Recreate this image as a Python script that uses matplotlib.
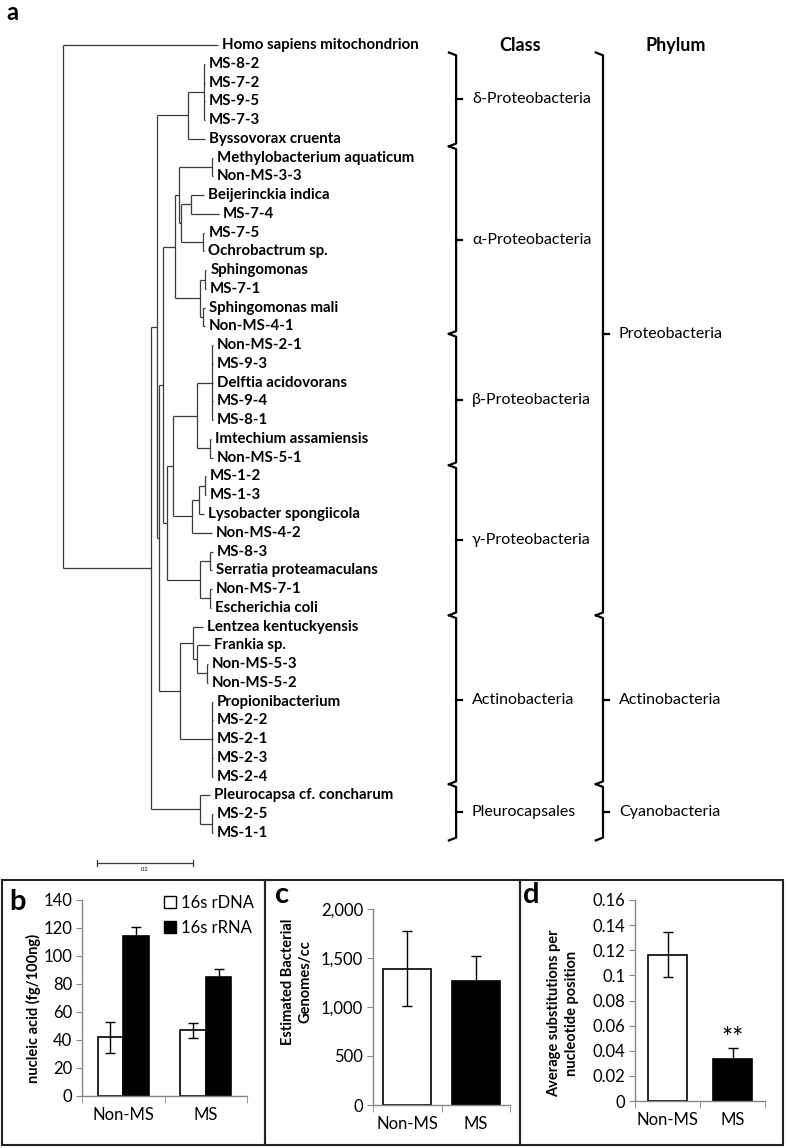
import matplotlib
matplotlib.use('Agg')
import matplotlib.pyplot as plt
from matplotlib.patches import Rectangle, Patch
from matplotlib.ticker import FuncFormatter

plt.rcParams['font.family'] = ['Lato', 'DejaVu Sans']

# ---------- panel a: tree data ----------
leaf_names = ['Homo sapiens mitochondrion', 'MS-8-2', 'MS-7-2', 'MS-9-5', 'MS-7-3',
              'Byssovorax cruenta', 'Methylobacterium aquaticum', 'Non-MS-3-3',
              'Beijerinckia indica', 'MS-7-4', 'MS-7-5', 'Ochrobactrum sp.',
              'Sphingomonas', 'MS-7-1', 'Sphingomonas mali', 'Non-MS-4-1',
              'Non-MS-2-1', 'MS-9-3', 'Delftia acidovorans', 'MS-9-4', 'MS-8-1',
              'Imtechium assamiensis', 'Non-MS-5-1', 'MS-1-2', 'MS-1-3',
              'Lysobacter spongiicola', 'Non-MS-4-2', 'MS-8-3', 'Serratia proteamaculans',
              'Non-MS-7-1', 'Escherichia coli', 'Lentzea kentuckyensis', 'Frankia sp.',
              'Non-MS-5-3', 'Non-MS-5-2', 'Propionibacterium', 'MS-2-2', 'MS-2-1',
              'MS-2-3', 'MS-2-4', 'Pleurocapsa cf. concharum', 'MS-2-5', 'MS-1-1']
# distance of each tip from the root (substitutions per site)
leaf_depth = [0.323, 0.296, 0.296, 0.296, 0.296, 0.296, 0.3125, 0.3125, 0.294, 0.325,
              0.294, 0.294, 0.298, 0.298, 0.296, 0.296, 0.3125, 0.3125, 0.3125, 0.3125,
              0.3125, 0.308, 0.3125, 0.298, 0.298, 0.294, 0.310, 0.3125, 0.310, 0.310,
              0.308, 0.292, 0.306, 0.302, 0.302, 0.3125, 0.3125, 0.3125, 0.3125, 0.3125,
              0.306, 0.3125, 0.3125]

# internal nodes: children are leaf indices (int) or node names (str)
node_names = ['delta_poly', 'delta', 'methylo', 'beij', 'ms75', 'alpha2', 'alpha1',
              'sph1', 'sph2', 'sphingo', 'alpha', 'beta_poly', 'imt', 'beta', 'lys2',
              'lys1', 'lys', 'bl', 'serr1', 'ecoli', 'serr', 'bg', 'proteo', 'nms5',
              'frank', 'lentz', 'propi', 'actino', 'pl1', 'pleuro', 'n2b', 'n2', 'n1', 'root']
node_depth = [0.294, 0.260, 0.310, 0.267, 0.292, 0.246, 0.242,
              0.296, 0.292, 0.285, 0.233, 0.310, 0.306, 0.279, 0.296,
              0.283, 0.269, 0.229, 0.306, 0.306, 0.285, 0.217, 0.208, 0.300,
              0.279, 0.271, 0.310, 0.244, 0.310, 0.285, 0.199, 0.196, 0.183, 0.0]
node_children = [[1, 2, 3, 4], ['delta_poly', 5], [6, 7], [8, 9], [10, 11], ['beij', 'ms75'],
                 ['methylo', 'alpha2'], [12, 13], [14, 15], ['sph1', 'sph2'],
                 ['alpha1', 'sphingo'], [16, 17, 18, 19, 20], [21, 22], ['beta_poly', 'imt'],
                 [23, 24], ['lys2', 25], ['lys1', 26], ['beta', 'lys'], [27, 28], [29, 30],
                 ['serr1', 'ecoli'], ['bl', 'serr'], ['alpha', 'bg'], [33, 34], [32, 'nms5'],
                 [31, 'frank'], [35, 36, 37, 38, 39], ['lentz', 'propi'], [41, 42], [40, 'pl1'],
                 ['proteo', 'actino'], ['delta', 'n2b'], ['n2', 'pleuro'], [0, 'n1']]

class_names = ['δ-Proteobacteria', 'α-Proteobacteria', 'β-Proteobacteria',
               'γ-Proteobacteria', 'Actinobacteria', 'Pleurocapsales']
class_first = [1, 6, 16, 23, 31, 40]
class_last = [5, 15, 22, 30, 39, 42]
phylum_names = ['Proteobacteria', 'Actinobacteria', 'Cyanobacteria']
phylum_first = [1, 31, 40]
phylum_last = [30, 39, 42]

# ---------- panels b, c, d data ----------
groups = ['Non-MS', 'MS']
rdna = [42, 47]
rdna_err = [11, 5.5]
rrna = [114, 85]
rrna_err = [7, 6]
genomes = [1390, 1270]
genomes_err = [383, 250]
subst = [0.1165, 0.0333]
subst_err = [0.018, 0.009]

W, H = 787, 1148
fig = plt.figure(figsize=(W / 100, H / 100), dpi=100)

# tree axes over the upper part, data units: x = depth, y = leaf index
ax = fig.add_axes([0, 1 - 880 / H, 1, 880 / H])
ax.set_xlim(-63 / 480, (W - 63) / 480)
ax.set_ylim((880 - 45) / 18.76, -45 / 18.76)
ax.axis('off')

tree_col = '#3a3a3a'


def child_y(c):
    if isinstance(c, int):
        return c
    kids = node_children[node_names.index(c)]
    ys = [child_y(k) for k in kids]
    return (min(ys) + max(ys)) / 2


def child_x(c):
    if isinstance(c, int):
        return leaf_depth[c]
    return node_depth[node_names.index(c)]


for i, name in enumerate(node_names):
    x0 = node_depth[i]
    ys = [child_y(k) for k in node_children[i]]
    ax.plot([x0, x0], [min(ys), max(ys)], color=tree_col, lw=0.9, solid_capstyle='butt')
    for k, yk in zip(node_children[i], ys):
        ax.plot([x0, child_x(k)], [yk, yk], color=tree_col, lw=0.9, solid_capstyle='butt')

for i, name in enumerate(leaf_names):
    ax.annotate(name, (leaf_depth[i], i), xytext=(3, 0), textcoords='offset points',
                va='center', ha='left', fontsize=10.8, fontweight='bold')

# scale bar
ax.plot([0.0708, 0.2708], [43.6, 43.6], color=tree_col, lw=0.9)
ax.plot([0.0708, 0.0708], [43.45, 43.75], color=tree_col, lw=0.9)
ax.plot([0.2708, 0.2708], [43.45, 43.75], color=tree_col, lw=0.9)
ax.text(0.1708, 43.95, '0.2', fontsize=4, ha='center', va='center')


def bracket(x, first, last, label, lx):
    y0, y1 = first - 0.6, last + 0.4
    ym = (y0 + y1) / 2
    ax.plot([x - 0.015, x, x, x - 0.015], [y0, y0 + 0.15, y1 - 0.15, y1],
            color='black', lw=1.6)
    ax.plot([x, x + 0.013], [ym, ym], color='black', lw=1.6)
    ax.text(lx, ym, label, fontsize=11.5, va='center', ha='left')


for nm, f, l in zip(class_names, class_first, class_last):
    bracket(0.819, f, l, nm, 0.852)
for nm, f, l in zip(phylum_names, phylum_first, phylum_last):
    bracket(1.125, f, l, nm, 1.158)

ax.text(0.952, 0.05, 'Class', fontsize=13, fontweight='bold', ha='center', va='center')
ax.text(1.277, 0.05, 'Phylum', fontsize=13, fontweight='bold', ha='center', va='center')
fig.text(6 / W, 1 - 12 / H, 'a', fontsize=17, fontweight='bold', va='center', ha='left')

# ---------- bar panels ----------
grey = '#868686'


def style(a):
    for s in ['top', 'right']:
        a.spines[s].set_visible(False)
    for s in ['left', 'bottom']:
        a.spines[s].set_color(grey)
        a.spines[s].set_linewidth(1.0)
    a.set_xlim(-0.5, 1.5)
    a.set_xticks([0, 1])
    a.set_xticklabels(groups)
    a.set_xticks([-0.5, 0.5, 1.5], minor=True)
    a.tick_params(axis='x', which='major', length=0, labelsize=12, pad=8)
    a.tick_params(axis='x', which='minor', length=5, color=grey, direction='out')
    a.tick_params(axis='y', length=4, color=grey, direction='out', labelsize=12, pad=3)


def px_axes(x0, x1, ytop, ybot):
    return fig.add_axes([x0 / W, 1 - ybot / H, (x1 - x0) / W, (ybot - ytop) / H])


ebar = dict(fmt='none', ecolor='black', capsize=3.5, elinewidth=1, capthick=1)

# b
axb = px_axes(82, 247, 900, 1096)
style(axb)
xs = [0, 1]
bw = 0.31
axb.bar([x - bw / 2 for x in xs], rdna, bw, color='white', edgecolor='black', lw=1.2)
axb.bar([x + bw / 2 for x in xs], rrna, bw, color='black', edgecolor='black', lw=1.2)
axb.errorbar([x - bw / 2 for x in xs], rdna, yerr=rdna_err, **ebar)
axb.errorbar([x + bw / 2 for x in xs], rrna, yerr=rrna_err, **ebar)
axb.set_ylim(0, 140)
axb.set_yticks(range(0, 141, 20))
axb.legend(handles=[Patch(facecolor='white', edgecolor='black'),
                    Patch(facecolor='black', edgecolor='black')],
           labels=['16s rDNA', '16s rRNA'], loc='upper right', frameon=False,
           fontsize=12, handlelength=0.7, handleheight=0.7, handletextpad=0.3,
           borderaxespad=0, labelspacing=0.55, bbox_to_anchor=(1.08, 1.06))
fig.text(33 / W, 1 - 1008 / H, 'nucleic acid (fg/100ng)', rotation=90, fontsize=10.5,
         fontweight='bold', ha='center', va='center')

# c
axc = px_axes(373, 510, 909, 1105)
style(axc)
axc.bar(xs, genomes, 0.7, color=['white', 'black'], edgecolor='black', lw=1.2)
axc.errorbar(xs, genomes, yerr=genomes_err, **ebar)
axc.set_ylim(0, 2000)
axc.set_yticks(range(0, 2001, 500))
axc.yaxis.set_major_formatter(FuncFormatter(lambda v, p: f'{v:,.0f}'))
fig.text(297 / W, 1 - 982 / H, 'Estimated Bacterial\nGenomes/cc', rotation=90,
         fontsize=10.5, fontweight='bold', ha='center', va='center', linespacing=1.3)

# d
axd = px_axes(635, 765, 900, 1101)
style(axd)
axd.bar(xs, subst, 0.6, color=['white', 'black'], edgecolor='black', lw=1.2)
axd.errorbar(xs, subst, yerr=subst_err, **ebar)
axd.set_ylim(0, 0.16)
axd.set_yticks([i * 0.02 for i in range(9)])
axd.yaxis.set_major_formatter(FuncFormatter(lambda v, p: f'{round(v, 2):g}'))
axd.text(1, subst[1] + subst_err[1] - 0.003, '**', fontsize=19, ha='center', va='bottom')
fig.text(563 / W, 1 - 1013 / H, 'Average substitutions per\nnucleotide position', rotation=90,
         fontsize=10.5, fontweight='bold', ha='center', va='center', linespacing=1.3)

# panel frames and letters
for x0, x1 in [(2, 265), (265, 520), (520, 783)]:
    fig.add_artist(Rectangle((x0 / W, 1 - 1145 / H), (x1 - x0) / W, 265 / H,
                             transform=fig.transFigure, fill=False, edgecolor='#222222', lw=1.5))
fig.text(9 / W, 1 - 902 / H, 'b', fontsize=21, fontweight='bold', va='center', ha='left')
fig.text(275 / W, 1 - 895 / H, 'c', fontsize=21, fontweight='bold', va='center', ha='left')
fig.text(523 / W, 1 - 895 / H, 'd', fontsize=21, fontweight='bold', va='center', ha='left')

fig.savefig('out.png', dpi=100)
